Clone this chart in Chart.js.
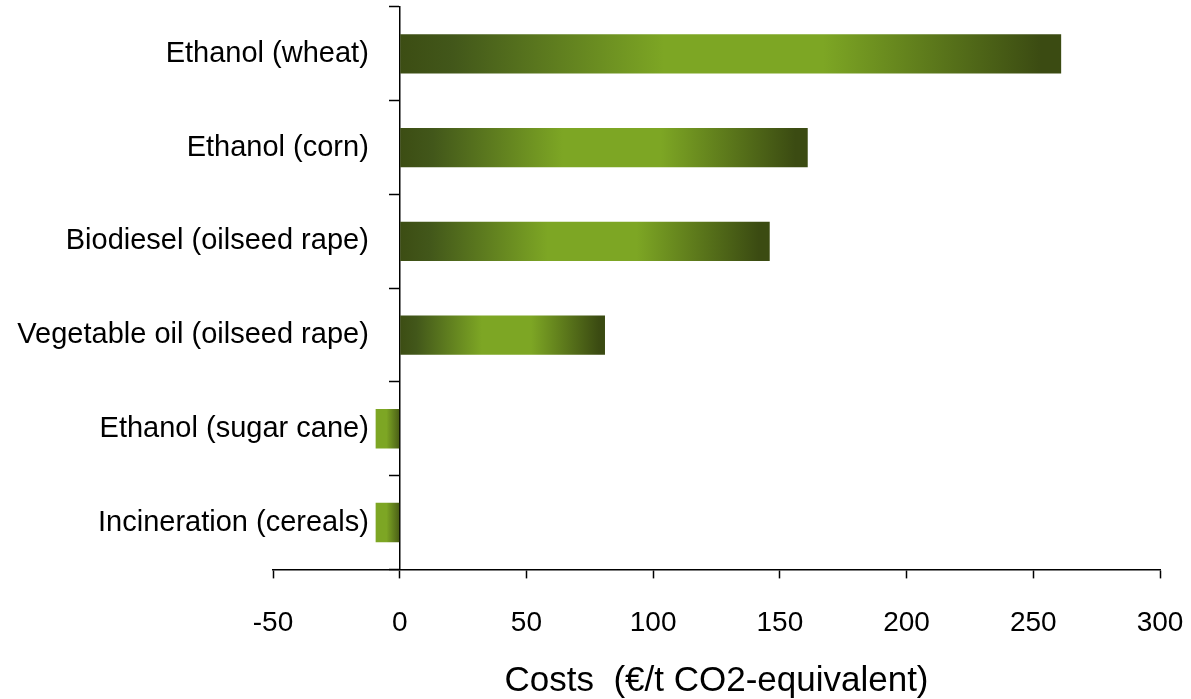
<!DOCTYPE html>
<html>
<head>
<meta charset="utf-8">
<title>Costs of biofuels per tonne CO2-equivalent</title>
<script src="https://cdn.jsdelivr.net/npm/chart.js@4/dist/chart.umd.min.js"></script>
<style>
  html, body { margin: 0; padding: 0; background: #ffffff; }
  #wrap { width: 1191px; height: 699px; position: relative; }
</style>
</head>
<body>
<div id="wrap"><canvas id="chart"></canvas></div>
<script>
// Pathways and their abatement cost (€ per tonne CO2-equivalent)
const categories = [
  'Ethanol (wheat)',
  'Ethanol (corn)',
  'Biodiesel (oilseed rape)',
  'Vegetable oil (oilseed rape)',
  'Ethanol (sugar cane)',
  'Incineration (cereals)'
];
const costs = [261, 161, 146, 81, -9.5, -9.5];
const xTicks = [-50, 0, 50, 100, 150, 200, 250, 300];
const axisTitle = 'Costs  (€/t CO2-equivalent)';

const DARK = '#3c4d13';
const LIGHT = '#7da624';
const FONT = "'Liberation Sans', Arial, sans-serif";

// Each bar is shaded along its own length: dark at both ends, bright in the middle.
function barFill(ctx) {
  const chart = ctx.chart;
  if (!chart.chartArea || !chart.scales.x) return LIGHT;
  const xs = chart.scales.x;
  const v = ctx.raw;
  const x0 = xs.getPixelForValue(0);
  const x1 = xs.getPixelForValue(v);
  if (Math.abs(x1 - x0) < 1) return LIGHT;
  const g = chart.ctx.createLinearGradient(x0, 0, x1, 0);
  if (v >= 0) {
    g.addColorStop(0, DARK);
    g.addColorStop(0.08, '#42571a');
    g.addColorStop(0.4, LIGHT);
    g.addColorStop(0.64, LIGHT);
    g.addColorStop(0.97, '#3b4b12');
    g.addColorStop(1, '#3b4b12');
  } else {
    g.addColorStop(0, '#4a5e16');
    g.addColorStop(0.55, LIGHT);
    g.addColorStop(1, LIGHT);
  }
  return g;
}

new Chart(document.getElementById('chart'), {
  type: 'bar',
  data: {
    labels: categories,
    datasets: [{
      data: costs,
      yAxisID: 'y',
      backgroundColor: barFill,
      borderWidth: 0,
      barPercentage: 0.42,
      categoryPercentage: 1.0
    }]
  },
  options: {
    indexAxis: 'y',
    responsive: true,
    maintainAspectRatio: false,
    animation: false,
    layout: { padding: { left: 273, right: 31, top: 7, bottom: 0 } },
    plugins: {
      legend: { display: false },
      tooltip: { enabled: false }
    },
    scales: {
      x: {
        type: 'linear',
        position: 'bottom',
        min: -50,
        max: 300,
        afterBuildTicks: (scale) => { scale.ticks = xTicks.map(v => ({ value: v })); },
        grid: {
          drawOnChartArea: false,
          drawTicks: true,
          tickLength: 9,
          tickWidth: 1.5,
          tickColor: '#000000'
        },
        border: { display: true, color: '#000000', width: 1.5 },
        ticks: {
          color: '#000000',
          font: { family: FONT, size: 28, lineHeight: 2.95 },
          padding: 4,
          maxRotation: 0
        },
        title: {
          display: true,
          text: axisTitle,
          color: '#000000',
          font: { family: FONT, size: 35, lineHeight: 1.0 },
          padding: { top: -5, bottom: 0 }
        }
      },
      // Axis line crossing at zero, with tick marks between the categories
      y: {
        type: 'category',
        position: { x: 0 },
        offset: true,
        grid: {
          offset: true,
          drawOnChartArea: false,
          drawTicks: true,
          tickLength: 10,
          tickWidth: 1.5,
          tickColor: '#000000'
        },
        border: { display: true, color: '#000000', width: 1.5 },
        ticks: { display: false }
      },
      // Category names, right-aligned a little to the left of the zero line
      yLabels: {
        type: 'category',
        position: { x: -12.2 },
        offset: true,
        labels: categories,
        grid: { display: false },
        border: { display: false },
        ticks: {
          color: '#000000',
          font: { family: FONT, size: 29 },
          padding: -16,
          autoSkip: false
        }
      }
    }
  }
});
</script>
</body>
</html>
